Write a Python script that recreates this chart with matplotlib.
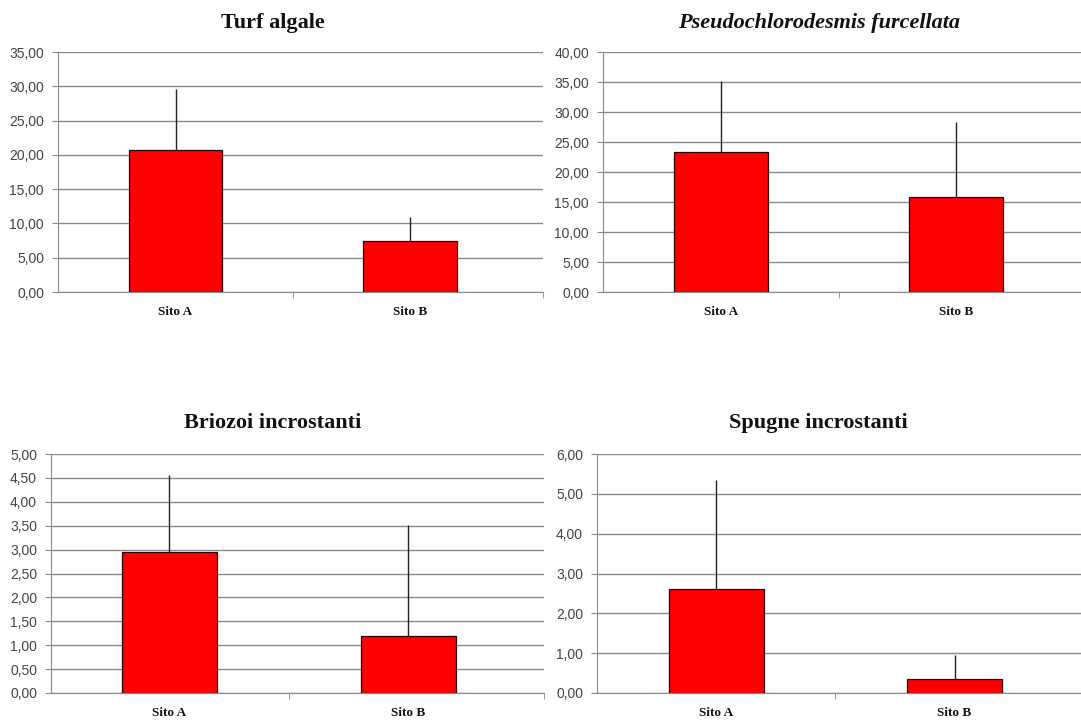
import matplotlib
matplotlib.use("Agg")
import matplotlib.pyplot as plt
from matplotlib.ticker import FuncFormatter, FixedLocator

# dati (media e deviazione, solo barra superiore)
siti = ["Sito A", "Sito B"]

turf_media = [20.7, 7.46]
turf_dev = [8.9, 3.42]

pseudo_media = [23.4, 15.9]
pseudo_dev = [11.7, 12.5]

briozoi_media = [2.94, 1.20]
briozoi_dev = [1.63, 2.32]

spugne_media = [2.62, 0.34]
spugne_dev = [2.72, 0.62]

titoli = ["Turf algale", "Pseudochlorodesmis furcellata",
          "Briozoi incrostanti", "Spugne incrostanti"]
massimi = [35, 40, 5, 6]
passi = [5, 5, 0.5, 1]

W, H = 1081, 720
fig = plt.figure(figsize=(W / 100, H / 100), dpi=100)
fig.patch.set_facecolor("white")

# posizione in pixel: sinistra, destra, alto, basso, centro barra A, passo categorie
pannelli = [
    (58, 543, 52, 292, 175.5, 234.5),
    (603, 1081, 52, 292, 721.3, 235.0),
    (51, 544, 454, 693, 169.3, 239.0),
    (597, 1081, 454, 693, 716.3, 238.2),
]
titoli_xy = [(273, 23), (819, 23), (273, 423), (818, 423)]

medie = [turf_media, pseudo_media, briozoi_media, spugne_media]
devs = [turf_dev, pseudo_dev, briozoi_dev, spugne_dev]

grigio = "#8a8a8a"

for i in range(4):
    sx, dx, alto, basso, ca, passo = pannelli[i]
    ax = fig.add_axes([sx / W, 1 - basso / H, (dx - sx) / W, (basso - alto) / H])
    x = list(range(len(siti)))
    ax.bar(x, medie[i], width=0.4, color="#ff0000", edgecolor="#2a0000",
           linewidth=0.9, zorder=2)
    ax.errorbar(x, medie[i], yerr=[[0] * len(x), devs[i]], fmt="none",
                ecolor="#222222", elinewidth=1.0, capsize=0, zorder=3)

    xl = -(ca - sx) / passo
    xr = (dx - ca) / passo
    ax.set_xlim(xl, xr)
    ax.set_ylim(0, massimi[i])

    yt = [k * passi[i] for k in range(int(round(massimi[i] / passi[i])) + 1)]
    ax.set_yticks(yt)
    ax.yaxis.set_major_formatter(FuncFormatter(lambda v, p: f"{v:.2f}".replace(".", ",")))
    ax.grid(axis="y", color=grigio, linewidth=1.0)
    ax.set_axisbelow(True)

    ax.set_xticks(x)
    ax.set_xticklabels(siti, fontfamily="Liberation Serif", fontweight="bold",
                       fontsize=9.5, color="#111111")
    ax.xaxis.set_minor_locator(FixedLocator([0.5, xr]))
    ax.tick_params(axis="x", which="major", length=0, pad=10)
    ax.tick_params(axis="x", which="minor", length=4, color=grigio, direction="out")
    ax.tick_params(axis="y", length=4, color=grigio, pad=6, labelsize=10,
                   labelcolor="#444444")
    for t in ax.get_yticklabels():
        t.set_fontfamily("Liberation Sans")

    for s in ["top", "right"]:
        ax.spines[s].set_visible(False)
    ax.spines["left"].set_color(grigio)
    ax.spines["bottom"].set_color(grigio)

    tx, ty = titoli_xy[i]
    fig.text(tx / W, 1 - ty / H, titoli[i], ha="center", va="center",
             fontfamily="Liberation Serif", fontweight="bold",
             fontstyle="italic" if i == 1 else "normal", fontsize=16,
             color="#111111")

plt.savefig("out.png", dpi=100)
